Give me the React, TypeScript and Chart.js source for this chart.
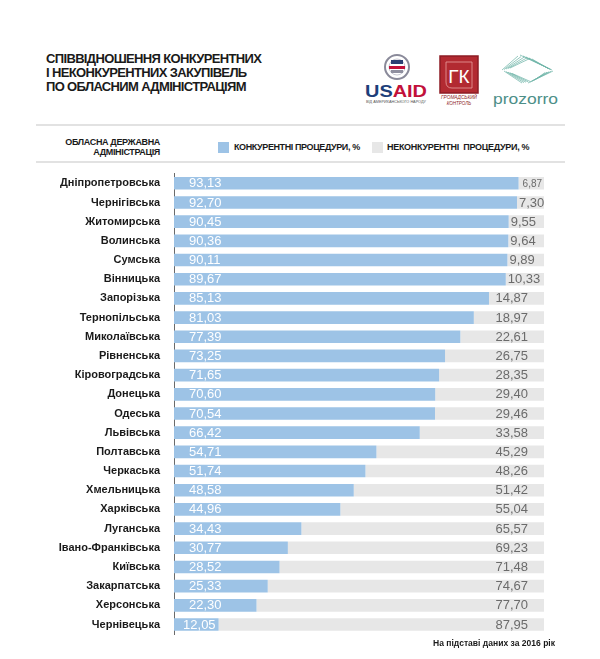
import React, { useEffect, useRef } from "react";
import { Chart, registerables } from "chart.js";

Chart.register(...registerables);

const regions = [
  "Дніпропетровська", "Чернігівська", "Житомирська", "Волинська", "Сумська", "Вінницька",
  "Запорізька", "Тернопільська", "Миколаївська", "Рівненська", "Кіровоградська", "Донецька",
  "Одеська", "Львівська", "Полтавська", "Черкаська", "Хмельницька", "Харківська",
  "Луганська", "Івано-Франківська", "Київська", "Закарпатська", "Херсонська", "Чернівецька",
];

const competitive = [
  93.13, 92.70, 90.45, 90.36, 90.11, 89.67, 85.13, 81.03, 77.39, 73.25, 71.65, 70.60,
  70.54, 66.42, 54.71, 51.74, 48.58, 44.96, 34.43, 30.77, 28.52, 25.33, 22.30, 12.05,
];

const nonCompetitive = [
  6.87, 7.30, 9.55, 9.64, 9.89, 10.33, 14.87, 18.97, 22.61, 26.75, 28.35, 29.40,
  29.46, 33.58, 45.29, 48.26, 51.42, 55.04, 65.57, 69.23, 71.48, 74.67, 77.70, 87.95,
];

const titleLines = [
  "СПІВВІДНОШЕННЯ КОНКУРЕНТНИХ",
  "І НЕКОНКУРЕНТНИХ ЗАКУПІВЕЛЬ",
  "ПО ОБЛАСНИМ АДМІНІСТРАЦІЯМ",
];
const headerLines = ["ОБЛАСНА ДЕРЖАВНА", "АДМІНІСТРАЦІЯ"];
const legendLabels = ["КОНКУРЕНТНІ ПРОЦЕДУРИ, %", "НЕКОНКУРЕНТНІ  ПРОЦЕДУРИ, %"];
const footnote = "На підставі даних за 2016 рік";

const BLUE = "#9dc3e6";
const GRAY = "#e7e7e7";
const FONT = "'Liberation Sans', Arial, Helvetica, sans-serif";

const fmt = (v: number) => v.toFixed(2).replace(".", ",");

const valueLabels = {
  id: "valueLabels",
  afterDatasetsDraw(chart: any) {
    const ctx = chart.ctx;
    const m0 = chart.getDatasetMeta(0);
    const m1 = chart.getDatasetMeta(1);
    const left = chart.chartArea.left;
    ctx.save();
    ctx.textBaseline = "middle";
    ctx.textAlign = "left";
    m0.data.forEach((bar: any, i: number) => {
      const y = bar.y + 0.5;
      const blueEnd = bar.x;
      ctx.font = `13px ${FONT}`;
      ctx.fillStyle = "#ffffff";
      const t0 = fmt(competitive[i]);
      const w0 = ctx.measureText(t0).width;
      ctx.fillText(t0, Math.min(left + 15, blueEnd - w0 - 3), y);

      const gb = m1.data[i];
      const grayEnd = gb.x;
      const t1 = fmt(nonCompetitive[i]);
      let w1 = ctx.measureText(t1).width;
      let off = 2;
      if (w1 + 1 > grayEnd - blueEnd) {
        ctx.font = `10px ${FONT}`;
        w1 = ctx.measureText(t1).width;
        off = 4;
      }
      ctx.fillStyle = "#6b6b6b";
      ctx.fillText(t1, Math.max(blueEnd + off, grayEnd - 16 - w1), y);
    });
    ctx.restore();
  },
};

function Logos() {
  return (
    <svg
      width={600}
      height={120}
      style={{ position: "absolute", left: 0, top: 0 }}
      viewBox="0 0 600 120"
    >
      {/* USAID */}
      <circle cx={397} cy={67} r={12} fill="#fff" stroke="#8a8a9a" strokeWidth={2} />
      <circle cx={397} cy={67} r={8} fill="#fff" stroke="#c9c9d3" strokeWidth={1} />
      <rect x={391} y={60} width={12} height={4} fill="#2b3f73" />
      <rect x={389} y={66} width={16} height={3} fill="#c2113a" />
      <rect x={391} y={70} width={12} height={3} fill="#8f8f9f" />
      <text x={365} y={97} fontFamily={FONT} fontWeight="bold" fontSize={17} textLength={62} lengthAdjust="spacingAndGlyphs">
        <tspan fill="#1d3e7a">US</tspan>
        <tspan fill="#c2113a">AID</tspan>
      </text>
      <text x={366} y={103} fontFamily={FONT} fontSize={4} fill="#555" textLength={60} lengthAdjust="spacingAndGlyphs">
        ВІД АМЕРИКАНСЬКОГО НАРОДУ
      </text>
      {/* ГК */}
      <rect x={440} y={56} width={38} height={37} fill="#b22a31" stroke="#8d1d24" strokeWidth={1.5} />
      <path d="M 446 62 L 472 62 L 472 88 L 452 88 Q 446 88 446 82 Z" fill="none" stroke="#e8a0a0" strokeWidth={0.8} />
      <text x={459} y={83} textAnchor="middle" fontFamily={FONT} fontSize={19} fill="#ffffff">
        ГК
      </text>
      <text x={459} y={99} textAnchor="middle" fontFamily={FONT} fontSize={4.5} fontStyle="italic" fill="#8d1d24" textLength={36} lengthAdjust="spacingAndGlyphs">
        ГРОМАДСЬКИЙ
      </text>
      <text x={459} y={105} textAnchor="middle" fontFamily={FONT} fontSize={4.5} fontStyle="italic" fill="#8d1d24">
        КОНТРОЛЬ
      </text>
      {/* prozorro */}
      {[0, 1, 2, 3, 4].map((k) => (
        <g key={k} stroke="#6fb5a8" strokeWidth={0.8} fill="none" opacity={0.9}>
          <polyline points={`${502 + k * 2},${70 - k * 0.5} ${518 + k * 3},${56 + k * 0.6}`} />
          <polyline points={`${520 + k * 3},${55 + k} ${552 - k},${70 - k * 0.4}`} />
          <polyline points={`${504 + k * 2},${71 + k * 0.6} ${522 + k * 2},${83 - k * 0.4}`} />
          <polyline points={`${528 + k * 2},${83 - k} ${553 - k * 2},${71 + k * 0.4}`} />
        </g>
      ))}
      <text x={493} y={104} fontFamily={FONT} fontSize={15} fill="#4d8f88" textLength={65} lengthAdjust="spacingAndGlyphs">
        prozorro
      </text>
    </svg>
  );
}

export default function App() {
  const canvasRef = useRef<HTMLCanvasElement | null>(null);

  useEffect(() => {
    if (!canvasRef.current) return;
    const chart = new Chart(canvasRef.current, {
      type: "bar",
      data: {
        labels: regions,
        datasets: [
          {
            label: legendLabels[0],
            data: competitive,
            backgroundColor: BLUE,
            borderWidth: 0,
            barPercentage: 0.66,
            categoryPercentage: 1,
          },
          {
            label: legendLabels[1],
            data: nonCompetitive,
            backgroundColor: GRAY,
            borderWidth: 0,
            barPercentage: 0.66,
            categoryPercentage: 1,
          },
        ],
      },
      options: {
        indexAxis: "y",
        responsive: false,
        animation: false,
        layout: { padding: { top: 8.7, bottom: 10.9, left: 0, right: 56 } },
        plugins: {
          legend: { display: false },
          tooltip: { enabled: false },
          title: { display: false },
        },
        scales: {
          x: { stacked: true, min: 0, max: 100, display: false },
          y: {
            stacked: true,
            afterFit: (scale: any) => {
              scale.width = 174;
              scale.paddingTop = 0;
              scale.paddingBottom = 0;
            },
            grid: { display: false, drawTicks: false },
            border: { display: true, color: "#6a6a6a", width: 1 },
            ticks: {
              color: "#1a1a1a",
              padding: 14,
              font: { family: FONT, size: 11, weight: "bold" },
            },
          },
        },
      },
      plugins: [valueLabels],
    });
    return () => chart.destroy();
  }, []);

  return (
    <div
      style={{
        position: "fixed",
        left: 0,
        top: 0,
        width: 600,
        height: 659,
        background: "#ffffff",
        fontFamily: FONT,
        overflow: "hidden",
      }}
    >
      <div
        style={{
          position: "absolute",
          left: 46,
          top: 52,
          fontSize: 13,
          fontWeight: "bold",
          lineHeight: "14px",
          letterSpacing: "-0.65px",
          color: "#1a1a1a",
          whiteSpace: "nowrap",
        }}
      >
        {titleLines.map((l) => (
          <div key={l}>{l}</div>
        ))}
      </div>
      <Logos />
      <div style={{ position: "absolute", left: 36, top: 124, width: 529, height: 2, background: "#e2e2e2" }} />
      <div style={{ position: "absolute", left: 36, top: 161, width: 529, height: 2, background: "#e2e2e2" }} />
      <div
        style={{
          position: "absolute",
          right: 440,
          top: 137,
          textAlign: "right",
          fontSize: 9,
          fontWeight: "bold",
          lineHeight: "10px",
          letterSpacing: "-0.35px",
          color: "#1a1a1a",
          whiteSpace: "nowrap",
        }}
      >
        {headerLines.map((l) => (
          <div key={l}>{l}</div>
        ))}
      </div>
      <div style={{ position: "absolute", left: 218, top: 142, width: 11, height: 11, background: BLUE }} />
      <div
        style={{
          position: "absolute",
          left: 234,
          top: 142,
          fontSize: 9,
          fontWeight: "bold",
          lineHeight: "11px",
          letterSpacing: "-0.4px",
          color: "#1a1a1a",
          whiteSpace: "nowrap",
        }}
      >
        {legendLabels[0]}
      </div>
      <div style={{ position: "absolute", left: 372, top: 142, width: 11, height: 11, background: GRAY }} />
      <div
        style={{
          position: "absolute",
          left: 387,
          top: 142,
          fontSize: 9,
          fontWeight: "bold",
          lineHeight: "11px",
          letterSpacing: "-0.3px",
          color: "#1a1a1a",
          whiteSpace: "pre",
        }}
      >
        {legendLabels[1]}
      </div>
      <canvas
        ref={canvasRef}
        width={600}
        height={480}
        style={{ position: "absolute", left: 0, top: 165, width: 600, height: 480 }}
      />
      <svg width={600} height={20} style={{ position: "absolute", left: 0, top: 632 }}>
        <text
          x={433}
          y={13.5}
          fontFamily={FONT}
          fontWeight="bold"
          fontSize={9.5}
          fill="#1a1a1a"
          textLength={122}
          lengthAdjust="spacingAndGlyphs"
        >
          {footnote}
        </text>
      </svg>
    </div>
  );
}
